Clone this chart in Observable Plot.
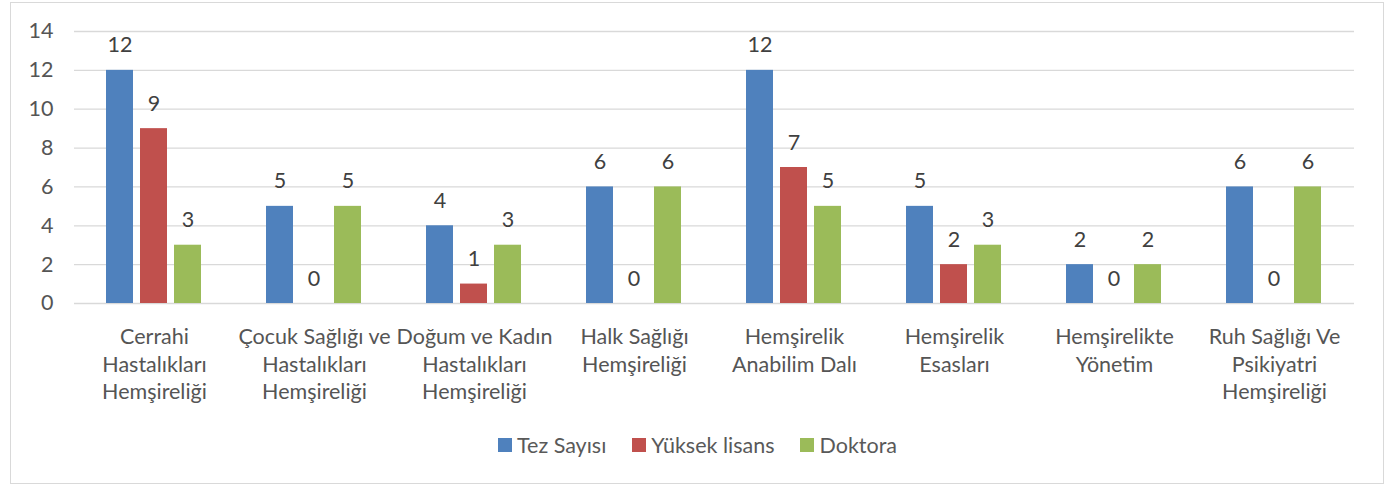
<!DOCTYPE html>
<html>
<head>
<meta charset="utf-8">
<script src="https://cdn.jsdelivr.net/npm/d3@7"></script>
<script src="https://cdn.jsdelivr.net/npm/@observablehq/plot@0.6"></script>
<style>
  html, body { margin: 0; padding: 0; background: #fff; }
  #wrap { position: relative; width: 1389px; height: 486px; overflow: hidden; font-family: Lato, sans-serif; }
  #border { position: absolute; left: 10px; top: 2px; width: 1374px; height: 482px; border: 1px solid #d9d9d9; box-sizing: border-box; }
  #chart { position: absolute; left: 0; top: 0; }
  #legend { position: absolute; left: 0; top: 432px; width: 1389px; display: flex; justify-content: center; font-size: 21.5px; color: #595959; padding-left: 6px; box-sizing: border-box; }
  .item { display: flex; align-items: center; margin: 0 13px; }
  .sw { width: 14px; height: 14px; margin-right: 5px; }
</style>
</head>
<body>
<div id="wrap">
  <div id="border"></div>
  <div id="chart"></div>
  <div id="legend"></div>
</div>
<script>
const categories = [
  "Cerrahi\nHastalıkları\nHemşireliği",
  "Çocuk Sağlığı ve\nHastalıkları\nHemşireliği",
  "Doğum ve Kadın\nHastalıkları\nHemşireliği",
  "Halk Sağlığı\nHemşireliği",
  "Hemşirelik\nAnabilim Dalı",
  "Hemşirelik\nEsasları",
  "Hemşirelikte\nYönetim",
  "Ruh Sağlığı Ve\nPsikiyatri\nHemşireliği"
];
const series = ["Tez Sayısı", "Yüksek lisans", "Doktora"];
const tezSayisi = [12, 5, 4, 6, 12, 5, 2, 6];
const yuksekLisans = [9, 0, 1, 0, 7, 2, 0, 0];
const doktora = [3, 5, 3, 6, 5, 3, 2, 6];
const colors = ["#4F81BD", "#C0504D", "#9BBB59"];
const yTicks = [0, 2, 4, 6, 8, 10, 12, 14];

const valuesBySeries = [tezSayisi, yuksekLisans, doktora];
const data = [];
categories.forEach((c, i) => {
  series.forEach((s, j) => data.push({category: c, series: s, value: valuesBySeries[j][i]}));
});

const chart = Plot.plot({
  width: 1389,
  height: 425,
  marginLeft: 73,
  marginRight: 35,
  marginTop: 31,
  marginBottom: 122,
  style: {fontFamily: "Lato, sans-serif", fontSize: "21.5px", color: "#555555", background: "transparent"},
  fx: {domain: categories, padding: 0, label: null},
  x: {domain: series, paddingInner: 0.2, paddingOuter: 0.9, axis: null},
  y: {domain: [0, 14], ticks: yTicks, label: null},
  color: {domain: series, range: colors},
  marks: [
    Plot.ruleY(yTicks, {stroke: "#d9d9d9", strokeWidth: 1.3}),
    Plot.barY(data, {fx: "category", x: "series", y: "value", fill: "series"}),
    Plot.text(data, {fx: "category", x: "series", y: "value", text: "value", lineAnchor: "bottom", dy: -18, fill: "#404040", fontSize: 21.5}),
    Plot.axisY({ticks: yTicks, tickSize: 0, tickPadding: 21, fontSize: 21.5, label: null}),
    Plot.axisFx({anchor: "bottom", tickSize: 0, tickPadding: 21, fontSize: 21.5, lineHeight: 1.28, label: null, lineAnchor: "top"})
  ]
});
document.getElementById("chart").appendChild(chart);

const legend = document.getElementById("legend");
series.forEach((s, j) => {
  const item = document.createElement("div");
  item.className = "item";
  const sw = document.createElement("span");
  sw.className = "sw";
  sw.style.background = colors[j];
  const t = document.createElement("span");
  t.textContent = s;
  item.appendChild(sw);
  item.appendChild(t);
  legend.appendChild(item);
});
</script>
</body>
</html>
